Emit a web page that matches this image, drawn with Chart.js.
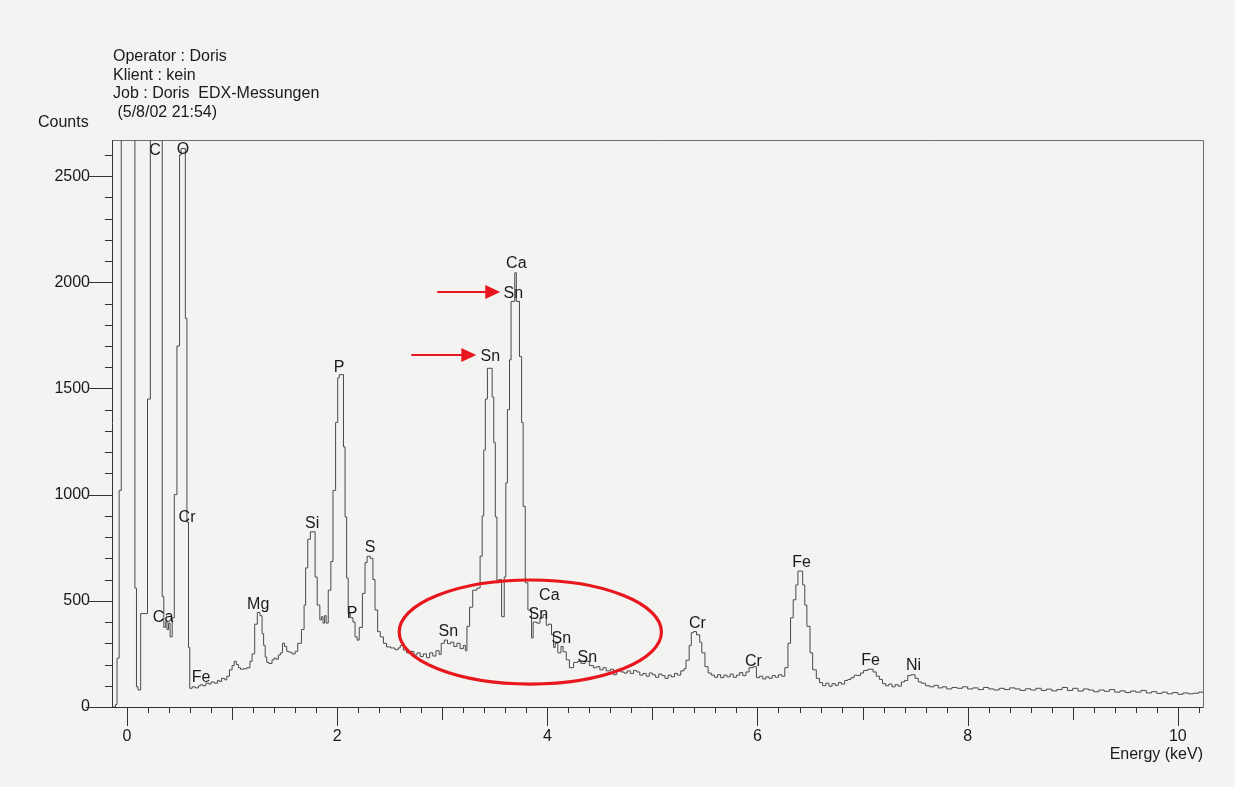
<!DOCTYPE html>
<html><head><meta charset="utf-8">
<script src="https://cdn.jsdelivr.net/npm/chart.js@4.4.1/dist/chart.umd.min.js"></script>
<style>
html,body{margin:0;padding:0;background:#f3f3f1;}
#wrap{position:relative;width:1235px;height:787px;overflow:hidden;background:#f3f3f1;}
canvas{position:absolute;left:0;top:0;}
.hdr{position:absolute;left:113px;top:47px;font:16px "Liberation Sans",Arial,sans-serif;color:#1a1a1a;line-height:18.7px;white-space:pre;}
.ylab{position:absolute;left:38px;top:113px;font:16px "Liberation Sans",Arial,sans-serif;color:#1a1a1a;line-height:18px;}
</style></head><body>
<div id="wrap"><canvas id="c" width="1235" height="787"></canvas>
<div class="hdr" id="hdr"></div><div class="ylab" id="ylab"></div></div>
<script>
// ---- header / axis texts ----
const headerLines = ["Operator : Doris", "Klient : kein", "Job : Doris  EDX-Messungen", " (5/8/02 21:54)"];
const yAxisTitle = "Counts";
const xAxisTitle = "Energy (keV)";

// ---- axis ranges and tick labels ----
const xMin = -0.143, xMax = 10.24;
const yMin = 0, yMax = 2670;
const xTickLabels = [0, 2, 4, 6, 8, 10];
const yTickLabels = [0, 500, 1000, 1500, 2000, 2500];

// ---- spectrum (channel start energy in keV, counts held until next entry) ----
const energyA = [-0.143,-0.11,-0.095,-0.075,-0.055,0.075,0.09,0.105,0.13,0.195,0.222,0.335,0.35,0.365,0.38,0.395,0.41,0.43,0.45,0.475,0.50,0.515,0.555,0.57,0.585,0.597];
const countsA = [0,12,230,1020,3000,560,95,80,440,1450,3000,520,375,400,365,395,330,420,1000,1700,2600,2630,1830,870,280,88];

const energyB = [0.62,0.65,0.68,0.70,0.72,0.75,0.78,0.80,0.83,0.86,
  0.88,0.90,0.93,0.95,0.975,1.00,1.02,1.04,1.06,1.08,
  1.11,1.14,1.17,1.19,1.215,1.24,1.265,1.285,1.30,1.315,
  1.33,1.35,1.38,1.40,1.42,1.44,1.46,1.48,1.50,1.52,
  1.54,1.57,1.60,1.625,1.66,1.685,1.70,1.72,1.745,1.79,
  1.81,1.835,1.85,1.865,1.88,1.895,1.915,1.94,1.96,1.985,
  2.005,2.02,2.06,2.075,2.09,2.105,2.125,2.15,2.17,2.19,
  2.21,2.24,2.265,2.285,2.315,2.34,2.36,2.385,2.41,2.44,
  2.47,2.51,2.55,2.58];
const countsB = [95,90,100,105,100,112,108,118,112,125,
  120,135,128,145,175,195,215,200,185,178,
  180,185,215,250,390,445,430,345,290,235,
  210,205,222,230,225,245,255,300,285,262,
  258,250,262,300,365,480,655,790,825,612,
  480,410,425,395,430,395,550,685,1020,1340,
  1550,1565,1225,895,607,440,420,400,330,315,
  375,535,680,710,700,600,457,355,330,300,
  283,278,270,278];

const energyC = [2.60,2.63,2.66,2.70,2.73,2.76,2.79,2.82,2.85,2.88,
  2.91,2.94,2.97,2.99,3.02,3.05,3.08,3.11,3.14,3.17,
  3.20,3.22,3.235,3.26,3.29,3.33,3.36,3.38,3.395,3.41,
  3.43,3.475,3.49,3.505,3.52,3.537,3.565,3.59,3.605,3.62,
  3.64,3.655,3.69,3.705,3.735,3.755,3.77,3.79,3.815,3.85,
  3.865,3.90,3.93,3.96,3.99,4.01,4.04,4.06,4.075,4.10,
  4.13,4.15,4.18,4.21,4.25,4.29,4.32,4.36,4.40,4.44,
  4.47,4.50,4.53,4.56,4.60,4.63,4.66,4.70];
const countsC = [290,268,255,262,245,255,238,250,232,255,
  240,265,248,300,315,298,305,285,300,275,
  290,265,380,470,550,560,710,900,1210,1450,
  1595,1460,1245,895,585,600,425,612,1055,1400,
  1635,1910,2045,1910,1650,1340,945,585,457,325,
  400,395,420,435,385,390,340,280,300,255,
  285,260,222,185,210,215,205,215,195,185,
  190,175,185,170,178,152,175,165];

const energyD = [4.73,4.76,4.79,4.82,4.85,4.88,4.91,4.94,4.97,5.00,
  5.03,5.06,5.09,5.12,5.15,5.18,5.21,5.24,5.27,5.30,
  5.32,5.35,5.37,5.39,5.42,5.45,5.47,5.50,5.53,5.56,
  5.59,5.62,5.65,5.68,5.71,5.74,5.77,5.80,5.83,5.86,
  5.89,5.92,5.96,5.99,6.02,6.05,6.08,6.11,6.14,6.17,
  6.20,6.23,6.26,6.29,6.315,6.34,6.365,6.385,6.43,6.45,
  6.47,6.50,6.525,6.56,6.59,6.62,6.65,6.68,6.71,6.74,
  6.77,6.80,6.83,6.86,6.89,6.92,6.95,6.98,7.01,7.05,
  7.10,7.13,7.16,7.19,7.22,7.25,7.28,7.31,7.34,7.37,
  7.40,7.43,7.46,7.50,7.53,7.56];
const countsD = [160,170,158,172,165,150,158,145,160,152,
  140,155,148,135,150,142,158,150,170,180,
  220,290,350,355,340,305,255,190,160,150,
  140,152,138,150,142,155,140,150,162,148,
  165,185,190,138,145,132,142,135,148,140,
  152,145,185,300,420,505,575,640,575,480,
  380,255,175,135,115,100,112,98,110,102,
  115,108,125,130,138,150,148,160,172,178,
  165,145,130,110,100,108,95,105,98,118,
  125,148,152,135,118,112];

const energyE = [7.60,7.64,7.68,7.72,7.76,7.80,7.85,7.90,7.95,8.00,
  8.05,8.10,8.15,8.20,8.25,8.30,8.35,8.40,8.45,8.50,
  8.55,8.60,8.65,8.70,8.75,8.80,8.85,8.90,8.95,9.00,
  9.05,9.10,9.15,9.20,9.25,9.30,9.35,9.40,9.45,9.50,
  9.55,9.60,9.65,9.70,9.75,9.80,9.85,9.90,9.95,10.00,
  10.05,10.10,10.15,10.20,10.24];
const countsE = [100,95,102,90,95,85,92,88,95,85,
  90,82,92,85,80,88,82,90,85,78,
  86,80,88,78,84,76,82,92,78,88,
  75,85,80,72,80,74,82,70,76,68,
  75,70,78,66,72,64,70,62,68,60,
  66,62,65,70,70];

// ---- peak identification labels ----
const peakLabelText   = ["C","O","Cr","Ca","Fe","Mg","Si","P","P","S","Sn","Sn","Ca","Sn","Ca","Sn","Sn","Sn","Cr","Cr","Fe","Fe","Ni"];
const peakLabelEnergy = [0.267,0.533,0.571,0.343,0.705,1.248,1.762,2.019,2.143,2.314,3.057,3.457,3.705,3.676,4.019,3.914,4.133,4.381,5.429,5.962,6.419,7.076,7.486];
const peakLabelCounts = [2622,2627,894,419,137,480,866,1596,438,749,353,1648,2086,1949,523,433,320,235,395,212,678,217,193];

// ---- red markings (in data units) ----
const arrowStartEnergy = [2.952, 2.705];
const arrowEndEnergy   = [3.552, 3.324];
const arrowCounts      = [1954, 1657];
const ellipseCenter = {energy: 3.838, counts: 353};
const ellipseRadius = {energy: 1.248, counts: 245};

document.getElementById('hdr').textContent = headerLines.join('\n');
document.getElementById('ylab').textContent = yAxisTitle;

const energy = [].concat(energyA, energyB, energyC, energyD, energyE);
const counts = [].concat(countsA, countsB, countsC, countsD, countsE);
const points = energy.map((e, i) => ({x: e, y: counts[i]}));

const FONT = '"Liberation Sans", Arial, sans-serif';
const INK = '#1a1a1a';
const RED = '#e8161d';

const decor = {
  id: 'decor',
  beforeDatasetsDraw(chart) {
    const {ctx, chartArea: a, scales: {x, y}} = chart;
    ctx.save();
    ctx.lineWidth = 1;
    // frame (top and right)
    ctx.strokeStyle = '#6d6d6d';
    ctx.beginPath();
    ctx.moveTo(a.left, a.top + 0.5); ctx.lineTo(a.right + 0.5, a.top + 0.5);
    ctx.lineTo(a.right + 0.5, a.bottom);
    ctx.stroke();
    // axes
    ctx.strokeStyle = '#333';
    ctx.beginPath();
    ctx.moveTo(a.left + 0.5, a.top); ctx.lineTo(a.left + 0.5, a.bottom);
    ctx.moveTo(86, a.bottom + 0.5); ctx.lineTo(a.right + 0.5, a.bottom + 0.5);
    // y ticks every 100 counts
    for (let v = 100; v <= yMax; v += 100) {
      const py = Math.round(y.getPixelForValue(v)) + 0.5;
      const len = (v % 500 === 0) ? 24 : 7;
      ctx.moveTo(a.left - len, py); ctx.lineTo(a.left, py);
    }
    // x ticks every 0.2 keV
    for (let i = 0; i <= 51; i++) {
      const v = i / 5;
      if (v > xMax) break;
      const px = Math.round(x.getPixelForValue(v)) + 0.5;
      const len = (i % 10 === 0) ? 19 : (i % 5 === 0 ? 13 : 6);
      ctx.moveTo(px, a.bottom); ctx.lineTo(px, a.bottom + len);
    }
    ctx.stroke();
    ctx.restore();
  },
  afterDatasetsDraw(chart) {
    const {ctx, scales: {x, y}} = chart;
    ctx.save();
    ctx.fillStyle = INK;
    ctx.font = '16px ' + FONT;
    ctx.textAlign = 'center';
    ctx.textBaseline = 'middle';
    peakLabelText.forEach((t, i) => {
      ctx.fillText(t, x.getPixelForValue(peakLabelEnergy[i]), y.getPixelForValue(peakLabelCounts[i]));
    });
    // ellipse
    const cx = x.getPixelForValue(ellipseCenter.energy);
    const cy = y.getPixelForValue(ellipseCenter.counts);
    const rx = x.getPixelForValue(ellipseCenter.energy + ellipseRadius.energy) - cx;
    const ry = cy - y.getPixelForValue(ellipseCenter.counts + ellipseRadius.counts);
    ctx.strokeStyle = RED;
    ctx.lineWidth = 3.2;
    ctx.beginPath();
    ctx.ellipse(cx, cy, rx, ry, 0, 0, Math.PI * 2);
    ctx.stroke();
    // arrows
    ctx.fillStyle = RED;
    arrowCounts.forEach((c, i) => {
      const py = y.getPixelForValue(c);
      const x1 = x.getPixelForValue(arrowStartEnergy[i]);
      const x2 = x.getPixelForValue(arrowEndEnergy[i]);
      ctx.lineWidth = 2;
      ctx.beginPath();
      ctx.moveTo(x1, py); ctx.lineTo(x2 - 12, py);
      ctx.stroke();
      ctx.beginPath();
      ctx.moveTo(x2, py); ctx.lineTo(x2 - 15, py - 7); ctx.lineTo(x2 - 15, py + 7);
      ctx.closePath(); ctx.fill();
    });
    ctx.restore();
  }
};

new Chart(document.getElementById('c'), {
  type: 'line',
  data: {
    datasets: [{
      label: 'EDX spectrum',
      data: points,
      stepped: 'before',
      borderColor: '#4a4a4a',
      borderWidth: 1,
      pointRadius: 0,
      fill: false
    }]
  },
  options: {
    responsive: false,
    animation: false,
    devicePixelRatio: 1,
    layout: {padding: {top: 140, right: 32, bottom: 0, left: 0}},
    plugins: {legend: {display: false}, tooltip: {enabled: false}},
    scales: {
      x: {
        type: 'linear', min: xMin, max: xMax,
        afterFit(s) { s.height = 80; },
        afterBuildTicks(s) { s.ticks = xTickLabels.map(v => ({value: v})); },
        grid: {display: false, drawTicks: false},
        border: {display: false},
        ticks: {padding: 20, color: INK, font: {family: FONT, size: 16}, maxRotation: 0, autoSkip: false,
                callback: v => String(v)},
        title: {display: true, text: xAxisTitle, align: 'end', color: INK, font: {family: FONT, size: 16}, padding: 23}
      },
      y: {
        type: 'linear', min: yMin, max: yMax,
        afterFit(s) { s.width = 112; },
        afterBuildTicks(s) { s.ticks = yTickLabels.map(v => ({value: v})); },
        grid: {display: false, drawTicks: false},
        border: {display: false},
        ticks: {padding: 22, color: INK, font: {family: FONT, size: 16}, callback: v => String(v)}
      }
    }
  },
  plugins: [decor]
});
</script>
</body></html>
